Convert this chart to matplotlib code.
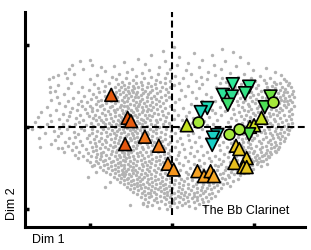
import numpy as np
import matplotlib.pyplot as plt

plt.rcParams['font.family'] = ['Liberation Sans', 'DejaVu Sans']

# background cloud, rows of y : x positions (both in hundredths of a unit)
cloud_rows = """
97: 3
95: 61
93: -11
91: 74
90: 27
88: -26
87: 49
85: 8 83
83: -41
82: 36 -100
80: -9 64 -112
79: -58
78: 19 92
77: -33
76: -97 51 6 -122
74: -71 78
73: -16 33 -87
72: 115
71: -49 -2
70: -108 60 -125
69: -28 17 99
68: -82
67: -55 44 126
66: -6 -37 71 -130
65: -119 23
64: -64 -17 88
63: -91 52 133 -139
62: -44 4 107
61: -73 -25 35 80 -145
60: -128 -9 61 119
59: -56 -34 14 96
58: -100 -68 43 137 -150
57: -20 -47 75 112
56: -85 -3 29 101 139
55: -61 -38 -14 66 124
54: -123 -77 -29 9 90 143
53: -52 -44 -8 58 114 131
52: -95 -66 -21 37 84 127
51: -139 -58 -36 3 70 105 141
50: -81 -48 -26 19 97 122
49: -110 -62 -41 -12 54 88 134 -148
48: -69 -53 -31 -2 77 116 145
47: -127 -90 -46 -19 33 102 126
46: -74 -57 -37 -7 63 93 138
45: -101 -65 -49 -24 11 85 118 132
44: -143 -83 -54 -33 -15 71 108 147
43: -60 -42 -27 24 96 124 136 -149
42: -115 -89 -68 -47 -5 57 113 140
41: -77 -52 -35 -18 79 91 129
40: -131 -96 -63 -44 -29 41 105 121 146
39: -70 -56 -38 -9 66 99 135
38: -107 -81 -50 -22 16 87 117 142
37: -140 -67 -45 -31 -4 74 110 127
36: -92 -59 -41 -13 47 95 131 148
35: -120 -78 -53 -26 29 83 114 138
34: -99 -71 -36 -19 9 102 125
33: -147 -86 -61 -48 -7 61 89 133 144
32: -111 -74 -55 -30 36 97 119 140
31: -127 -90 -66 -39 -16 52 79 108 136
30: -103 -58 -44 -24 4 86 123 146
29: -138 -80 -69 -34 -11 69 101 130
28: -115 -93 -51 -40 -20 23 92 112 141
27: -85 -62 -46 -27 45 81 120 137
26: -130 -100 -73 -55 -32 -3 67 106 148
25: -109 -88 -59 -41 -14 31 94 126
24: -152 -76 -63 -37 -23 58 85 116 139
23: -122 -97 -54 -44 -9 14 103 131
22: -106 -83 -67 -29 -18 74 96 121 145
21: -141 -71 -50 -35 3 49 88 134
20: -116 -91 -61 -43 -25 38 110 127
19: -98 -78 -56 -30 -12 64 93 142
18: -159 -124 -69 -48 -37 21 82 105 130
17: -104 -85 -60 -22 -5 53 99 118
16: -133 -75 -52 -40 -17 33 76 123 146
15: -112 -94 -64 -45 -28 7 90 111 136
14: -148 -82 -57 -33 -11 60 101 128
13: -126 -101 -70 -49 -24 17 84 119 143
12: -163 -89 -62 -42 -7 45 95 114
11: -117 -96 -74 -53 -31 26 72 107 132
10: -137 -80 -58 -38 -15 3 88 124 145
9: -108 -86 -66 -47 -20 55 98 116
8: -128 -93 -61 -35 -27 12 78 110 139
7: -147 -72 -54 -43 -9 39 92 126
6: -167 -113 -84 -63 -33 -18 68 104 134
5: -99 -77 -50 -40 -4 24 85 119 146
4: -133 -90 -68 -46 -25 50 96 113
3: -152 -118 -81 -57 -36 -11 16 80 129 141
2: -105 -74 -64 -44 -21 43 101 122
1: -125 -96 -59 -50 -30 -2 71 88 136
0: -161 -87 -70 -38 -16 29 93 117 145
-1: -138 -111 -78 -55 -42 8 62 106 127
-2: -97 -65 -48 -27 -7 81 99 140
-3: -170 -128 -84 -60 -34 -19 37 90 118 133
-4: -107 -73 -51 -39 14 70 112 143
-5: -144 -91 -67 -45 -23 -1 55 97 125
-6: -119 -80 -58 -31 -13 83 108 136
-7: -135 -98 -71 -49 -37 26 64 119 131
-8: -155 -86 -62 -43 -20 4 92 113
-9: -114 -76 -54 -29 -8 47 87 128 141
-10: -101 -68 -47 -35 19 74 104 122
-11: -139 -92 -79 -56 -24 -3 59 96 134
-12: -118 -63 -42 -15 33 81 115 129
-13: -162 -87 -70 -51 -30 10 68 100 138
-14: -125 -103 -59 -46 -18 42 90 123
-15: -95 -74 -37 -9 52 85 111 131
-16: -142 -82 -64 -50 -26 21 97 119
-17: -112 -89 -57 -41 -12 6 76 106 136
-18: -130 -71 -53 -33 -2 62 93 125
-19: -100 -80 -60 -45 -22 28 87 117
-20: -121 -94 -66 -39 -15 47 72 109 132
-21: -147 -85 -55 -31 -5 12 95 120
-22: -109 -75 -62 -43 -24 57 84 127
-23: -127 -92 -69 -48 -11 35 102 114
-24: -98 -81 -58 -36 -19 4 67 93 130 -161
-25: -117 -72 -52 -29 23 86 110 124
-26: -134 -88 -64 -44 -8 49 96 121 -139
-27: -105 -78 -56 -35 -21 15 75 107 129
-28: -122 -93 -67 -47 -2 59 89 116
-29: -96 -73 -53 -26 -13 31 100 125
-30: -113 -84 -61 -39 9 70 94 119
-31: -131 -68 -50 -32 -17 43 82 108 127
-32: -102 -87 -58 -42 -5 22 99 115
-33: -91 -74 -54 -25 -10 63 91 121
-34: -118 -80 -65 -37 7 38 104 112
-35: -99 -70 -47 -29 -14 52 78 117
-36: -108 -86 -59 -41 -3 27 94 110
-37: -93 -63 -52 -20 16 68 101 118
-38: -115 -77 -56 -34 -9 45 87 106
-39: -88 -67 -46 -24 5 57 96 114
-40: -103 -82 -60 -38 -16 33 79 102
-41: -92 -72 -51 -28 -4 62 90 109
-42: -84 -57 -42 -19 20 48 99 111
-43: -100 -74 -63 -33 -11 71 86 105
-44: -90 -66 -48 -25 8 39 95
-45: -79 -54 -37 -14 27 60 103 116
-46: -95 -70 -59 -30 -6 52 84
-47: -83 -62 -44 -21 13 75 98
-48: -74 -51 -35 -10 34 56 89 108 -97
-49: -88 -66 -47 -27 3 66 94
-50: -78 -58 -40 -17 22 45 81
-51: -70 -53 -31 -7 38 73 99
-52: -84 -61 -45 -22 10 55 86
-53: -73 -49 -36 -13 28 64
-54: -66 -56 -28 -3 41 79 95
-55: -80 -60 -42 -19 17 50 72 -92
-56: -69 -47 -33 -8 31 62 88
-57: -61 -52 -25 1 45 76
-58: -76 -57 -38 -15 20 58
-59: -65 -44 -30 -5 35 68 83
-60: -58 -50 -21 8 26 53
-61: -71 -40 -34 -12 42 70 -102
-62: -62 -53 -26 -2 18 61
-63: -55 -43 -17 11 37 80
-64: -67 -36 -29 -7 48 65
-65: -58 -47 -21 4 24 56
-66: -50 -39 -12 15 40 74
-67: -63 -31 -24 -3 31 59 -76
-68: -54 -43 -15 9 50 67
-69: -46 -35 -8 20 38
-70: -59 -28 -19 2 29 62
-71: -50 -39 -11 14 45 55
-72: -42 -24 -4 26 71
-73: -55 -33 -15 8 36 51 -82
-74: -46 -21 -7 19 43
-75: -38 -29 0 31 60
-76: -51 -17 -10 12 47
-77: -41 -26 -2 23 35
-78: -34 -13 7 40 56
-79: -47 -22 -6 16 30
-80: -37 -27 3 27 49
-81: -29 -10 11 38
-82: -42 -19 -1 21 45
-83: -33 -6 15 34
-84: -25 -14 7 27 52
-85: -38 -2 18 42
-86: -28 -10 10 31
-87: -19 4 24 48
-88: -33 -7 14 37
-89: -22 1 30
-90: -13 19 44
-91: -29 -4 9
-92: -18 27 38
-93: -35 2 16
-94: -9 33 -35
-95: -24 12 -51
-96: -2 40
-97: -31 21
-98: 6
-99: -16 28
-100: -6
"""

# upward triangles
up_x = [-0.74, -0.54, -0.50, -0.57, -0.33, -0.16, -0.05, 0.02,
        0.31, 0.39, 0.47, 0.51,
        0.78, 0.82, 0.91, 0.76, 0.87, 0.91,
        0.18, 0.95, 1.00, 1.09]
up_y = [0.39, 0.11, 0.07, -0.21, -0.12, -0.23, -0.45, -0.52,
        -0.54, -0.60, -0.54, -0.60,
        -0.23, -0.27, -0.38, -0.44, -0.49, -0.49,
        0.02, 0.00, 0.02, 0.11]
up_c = ['#e55a0e', '#e55a0e', '#e65c10', '#e5570e', '#ef7418', '#f27e1c', '#f3901f', '#f5961f',
        '#f5a224', '#f5a224', '#f5a424', '#f5a824',
        '#e8c41e', '#e8c61e', '#e8c81e', '#e5be1e', '#e6c01e', '#e6c41e',
        '#c4e01e', '#c8e01e', '#cde01e', '#c6e01e']

# downward triangles
down_x = [0.74, 0.94, 0.62, 0.73, 0.89, 0.68, 0.43, 0.35,
          1.20, 1.13, 0.94, 0.55, 0.50, 0.49]
down_y = [0.52, 0.49, 0.39, 0.37, 0.41, 0.27, 0.23, 0.18,
          0.37, 0.24, -0.09, -0.10, -0.13, -0.22]
down_c = ['#2ee898', '#2ee890', '#2ee29a', '#30dc90', '#34e285', '#3ee070', '#1ed8b4', '#1ed4bc',
          '#6ee040', '#4ee055', '#50e050', '#1cd4c0', '#1ad0c4', '#18cec6']

# circles
circ_x = [0.32, 0.70, 0.82, 1.23]
circ_y = [0.06, -0.09, -0.02, 0.30]

cx, cy = [], []
for line in cloud_rows.strip().splitlines():
    yv, xs = line.split(':')
    for xv in xs.split():
        cx.append(float(xv) / 100)
        cy.append(float(yv) / 100)

fig = plt.figure(figsize=(3.11, 2.5), dpi=100)
ax = fig.add_axes([25 / 311, 23 / 250, 280 / 311, 215 / 250])
ax.set_xlim(-1.79, 1.62)
ax.set_ylim(-1.22, 1.40)

ax.scatter(cx, cy, s=6, c='#b3b3b3', linewidths=0, zorder=1)

ax.plot([0, 0], [-1.07, 1.40], color='k', lw=1.5, ls=(0, (3.3, 1.7)), zorder=2)
ax.plot([-1.77, 1.62], [0, 0], color='k', lw=1.5, ls=(0, (3.3, 1.7)), zorder=2)

ax.scatter(up_x, up_y, s=85, marker='^', c=up_c, edgecolors='k', linewidths=1.2, zorder=3)
ax.scatter(down_x, down_y, s=85, marker='v', c=down_c, edgecolors='k', linewidths=1.2, zorder=3)
ax.scatter(circ_x, circ_y, s=60, marker='o', c='#a4e83a', edgecolors='k', linewidths=1.2, zorder=4)

ax.text(0.90, -1.02, 'The Bb Clarinet', fontsize=9, ha='center', va='center')

for side in ['top', 'right']:
    ax.spines[side].set_visible(False)
for side in ['left', 'bottom']:
    ax.spines[side].set_linewidth(2.2)
ax.set_xticks([-1, 0, 1])
ax.set_yticks([-1, 0, 1])
ax.tick_params(direction='in', length=3, width=2.5, labelbottom=False, labelleft=False)

fig.text(48 / 311, 1 - 240 / 250, 'Dim 1', fontsize=9, ha='center', va='center')
fig.text(12 / 311, 1 - 204 / 250, 'Dim 2', fontsize=9, ha='center', va='center', rotation=90)

fig.savefig('out.png', dpi=100)
